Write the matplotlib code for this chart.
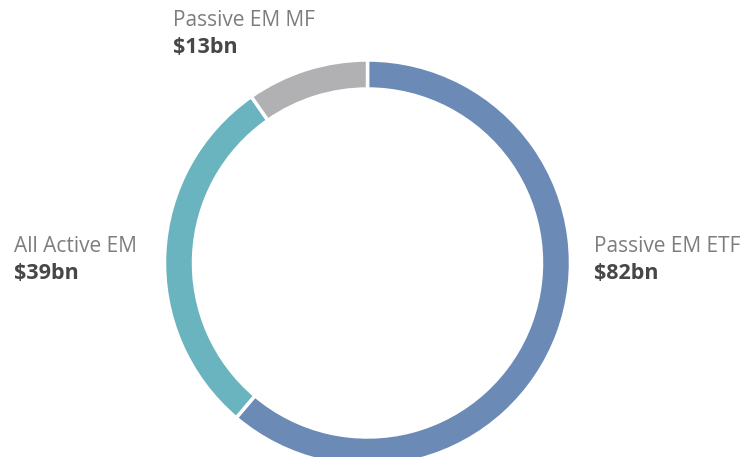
import matplotlib.pyplot as plt

# Emerging-market fund assets by vehicle
labels = ["Passive EM ETF", "All Active EM", "Passive EM MF"]
amounts = [82, 39, 13]
value_labels = ["$82bn", "$39bn", "$13bn"]
colors = ["#6b8bb6", "#6ab4bf", "#b1b1b4"]

plt.rcParams["font.family"] = ["Open Sans", "DejaVu Sans"]

W, H = 752, 457
fig = plt.figure(figsize=(W / 100, H / 100), dpi=100)
ax = fig.add_axes([0, 0, 1, 1])

cx, cy, r = 367.5, H - 263, 203
ax.pie(amounts, colors=colors, startangle=90, counterclock=False,
       center=(cx, cy), radius=r, frame=True,
       wedgeprops=dict(width=29, edgecolor="white", linewidth=2.5))
ax.set_xlim(0, W)
ax.set_ylim(0, H)
ax.set_aspect("equal")
ax.axis("off")

# label anchors (left edge, top of name line)
anchors = [(594, 236), (14, 236), (173, 10)]
for (x, y), name, val in zip(anchors, labels, value_labels):
    ax.text(x, H - y, name, fontsize=15, color="#7d7d7d", va="top", ha="left")
    ax.text(x, H - y - 27, val, fontsize=15.5, color="#474747", fontweight="bold",
            va="top", ha="left")

fig.savefig("out.png", dpi=100)
